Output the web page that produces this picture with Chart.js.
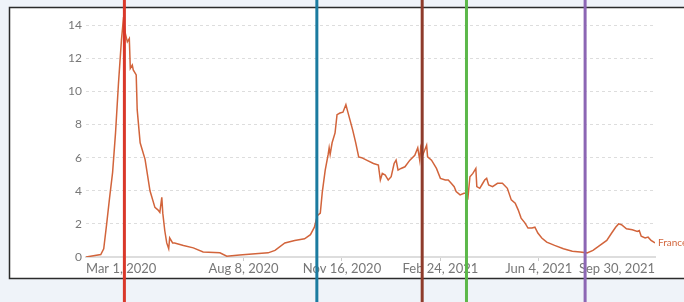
<!DOCTYPE html>
<html>
<head>
<meta charset="utf-8">
<script src="https://cdn.jsdelivr.net/npm/chart.js@4/dist/chart.umd.min.js"></script>
<style>
  html, body { margin: 0; padding: 0; background: #eff3f9; overflow: hidden; }
  canvas { display: block; }
</style>
</head>
<body>
<canvas id="chart" width="684" height="302"></canvas>
<script>
// days counted from Mar 1, 2020
const days = [0, 15, 18, 21, 24, 27, 30, 33, 36, 38, 40, 42, 44, 45, 47, 48, 51, 52, 55, 60,
  65, 70, 73, 75, 77, 78, 80, 82, 84, 85, 88, 90, 99, 109, 119, 136, 143, 156, 172, 185,
  192, 202, 212, 222, 228, 232, 235, 238, 240, 243, 246, 247, 248, 250, 253, 255, 258, 261, 264, 266,
  271, 274, 277, 280, 285, 292, 297, 299, 301, 304, 307, 310, 313, 315, 317, 320, 324, 329, 334, 337,
  339, 340, 342, 346, 347, 351, 356, 360, 365, 368, 371, 374, 376, 380, 384, 386, 388, 390, 393, 396,
  397, 400, 402, 405, 407, 409, 413, 418, 423, 428, 432, 436, 439, 442, 446, 449, 453, 456, 459, 463,
  468, 476, 485, 494, 502, 509, 515, 522, 529, 534, 538, 541, 544, 549, 555, 560, 562, 564, 568, 571,
  574, 578];
const franceValues = [0, 0.15, 0.5, 2.0, 3.6, 5.1, 7.5, 10.5, 13.1, 14.4, 13.5, 13.0, 13.2, 11.4, 11.6, 11.3, 11.0, 8.9, 6.9, 5.9,
  4.0, 3.0, 2.85, 2.7, 3.6, 2.65, 1.6, 0.85, 0.5, 1.15, 0.85, 0.85, 0.7, 0.55, 0.3, 0.25, 0.05, 0.12, 0.2, 0.25,
  0.4, 0.85, 1.0, 1.1, 1.35, 1.8, 2.5, 2.65, 3.9, 5.25, 6.2, 6.6, 6.2, 6.9, 7.5, 8.6, 8.7, 8.75, 9.2, 8.75,
  7.65, 6.9, 6.05, 6.0, 5.85, 5.65, 5.55, 4.65, 5.05, 4.95, 4.65, 4.85, 5.65, 5.85, 5.25, 5.35, 5.45, 5.85, 6.15, 6.6,
  5.85, 6.6, 6.15, 6.75, 6.05, 5.85, 5.35, 4.75, 4.65, 4.65, 4.45, 4.25, 3.95, 3.75, 3.85, 3.85, 3.6, 4.85, 5.05, 5.35,
  4.25, 4.15, 4.35, 4.65, 4.75, 4.35, 4.25, 4.45, 4.45, 4.15, 3.45, 3.25, 2.85, 2.35, 2.05, 1.75, 1.75, 1.8, 1.45, 1.15,
  0.9, 0.7, 0.5, 0.35, 0.3, 0.25, 0.4, 0.7, 1.0, 1.45, 1.8, 2.0, 1.95, 1.7, 1.65, 1.55, 1.6, 1.25, 1.15, 1.2,
  1.0, 0.85];

const tickDays = [0, 160, 260, 360, 460, 578];
const tickLabels = ['Mar 1, 2020', 'Aug 8, 2020', 'Nov 16, 2020', 'Feb 24, 2021', 'Jun 4, 2021', 'Sep 30, 2021'];
const yTicks = [0, 2, 4, 6, 8, 10, 12, 14];

const markerDays = [39, 234.5, 341.5, 386.5, 507];
const markerColors = ['#d9382a', '#1b7ba0', '#8e3b2b', '#5cb84a', '#8c66b4'];

const lineColor = '#d2643b';

const pagePlugin = {
  id: 'page',
  beforeDraw(chart) {
    const ctx = chart.ctx;
    ctx.save();
    ctx.fillStyle = '#eff3f9';
    ctx.fillRect(0, 0, chart.width, chart.height);
    ctx.fillStyle = '#ffffff';
    ctx.fillRect(9, 7, 700, 271);
    ctx.strokeStyle = '#2b2b2b';
    ctx.lineWidth = 1.5;
    ctx.strokeRect(9.5, 7.5, 700, 271);
    ctx.restore();
  },
  afterDatasetsDraw(chart) {
    const ctx = chart.ctx;
    const meta = chart.getDatasetMeta(0);
    const last = meta.data[meta.data.length - 1];
    ctx.save();
    ctx.font = '10px Lato';
    ctx.fillStyle = lineColor;
    ctx.textBaseline = 'middle';
    ctx.fillText('France', last.x + 3, last.y);
    ctx.restore();
  },
  afterDraw(chart) {
    const ctx = chart.ctx;
    const x = chart.scales.x;
    ctx.save();
    ctx.lineWidth = 3;
    markerDays.forEach((d, i) => {
      const px = x.getPixelForValue(d);
      ctx.strokeStyle = markerColors[i];
      ctx.beginPath();
      ctx.moveTo(px, 0);
      ctx.lineTo(px, chart.height);
      ctx.stroke();
    });
    ctx.restore();
  }
};

new Chart(document.getElementById('chart'), {
  type: 'line',
  data: {
    datasets: [{
      label: 'France',
      data: days.map((d, i) => ({ x: d, y: franceValues[i] })),
      borderColor: lineColor,
      borderWidth: 1.5,
      pointRadius: 0,
      tension: 0,
      fill: false
    }]
  },
  options: {
    responsive: false,
    animation: false,
    devicePixelRatio: 1,
    layout: { padding: { left: 0, right: 29, top: 17, bottom: 0 } },
    plugins: { legend: { display: false }, tooltip: { enabled: false } },
    scales: {
      x: {
        type: 'linear',
        min: 0,
        max: 578,
        afterBuildTicks: s => { s.ticks = tickDays.map(v => ({ value: v })); },
        afterFit: s => { s.height = 45; },
        ticks: {
          align: 'inner',
          maxRotation: 0,
          autoSkip: false,
          padding: 0,
          color: '#777',
          font: { family: 'Lato', size: 13 },
          callback: (v, i) => tickLabels[i]
        },
        grid: {
          drawOnChartArea: false,
          tickLength: 4,
          color: ctx => (ctx.index === 0 || ctx.index === tickDays.length - 1) ? 'rgba(0,0,0,0)' : '#ccc'
        },
        border: { display: true, color: '#ddd', width: 2 }
      },
      y: {
        min: 0,
        max: 14.5,
        afterBuildTicks: s => { s.ticks = yTicks.map(v => ({ value: v })); },
        afterFit: s => { s.width = 86; },
        ticks: {
          padding: 4,
          color: '#777',
          font: { family: 'Lato', size: 12 }
        },
        grid: { color: '#ddd', drawTicks: false },
        border: { display: false, dash: [3, 3] }
      }
    }
  },
  plugins: [pagePlugin]
});
</script>
</body>
</html>
